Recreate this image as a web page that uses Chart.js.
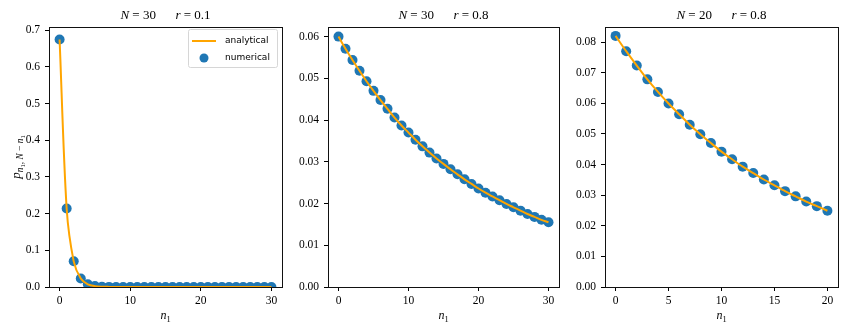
<!DOCTYPE html>
<html>
<head>
<meta charset="utf-8">
<script src="https://cdn.jsdelivr.net/npm/chart.js@4.4.0/dist/chart.umd.min.js"></script>
<style>
  body { margin: 0; background: #fff; width: 847px; height: 333px; position: relative; overflow: hidden; }
  .panel { position: absolute; top: 0; height: 333px; }
</style>
</head>
<body>
<div class="panel" style="left:0;width:290px"><canvas id="c1" width="290" height="333"></canvas></div>
<div class="panel" style="left:285px;width:285px"><canvas id="c2" width="285" height="333"></canvas></div>
<div class="panel" style="left:565px;width:282px"><canvas id="c3" width="282" height="333"></canvas></div>
<script>
'use strict';

// n1 values for each panel
let n1_30 = [0, 1, 2, 3, 4, 5, 6, 7, 8, 9, 10, 11, 12, 13, 14, 15, 16, 17, 18, 19, 20,
  21, 22, 23, 24, 25, 26, 27, 28, 29, 30];
let n1_20 = [0, 1, 2, 3, 4, 5, 6, 7, 8, 9, 10, 11, 12, 13, 14, 15, 16, 17, 18, 19, 20];

// N = 30, r = 0.1
let p_30_01 = [0.675, 0.214, 0.070, 0.023, 0.0074, 0.0024, 0.0008, 0.0003, 0.0001, 0.00003,
  0, 0, 0, 0, 0, 0, 0, 0, 0, 0, 0, 0, 0, 0, 0, 0, 0, 0, 0, 0, 0];
// N = 30, r = 0.8
let p_30_08 = [0.0600, 0.0571, 0.0544, 0.0518, 0.0493, 0.0470, 0.0448, 0.0427, 0.0406, 0.0387,
  0.0370, 0.0353, 0.0337, 0.0322, 0.0308, 0.0295, 0.0282, 0.0270, 0.0258, 0.0247,
  0.0236, 0.0226, 0.0217, 0.0208, 0.0199, 0.0191, 0.0183, 0.0175, 0.0168, 0.0161, 0.0155];
// N = 20, r = 0.8
let p_20_08 = [0.0820, 0.0770, 0.0723, 0.0678, 0.0637, 0.0599, 0.0564, 0.0530, 0.0499, 0.0470,
  0.0442, 0.0417, 0.0393, 0.0372, 0.0351, 0.0332, 0.0313, 0.0296, 0.0279, 0.0264, 0.0249];

let xTicks30 = [0, 10, 20, 30];
let xTicks20 = [0, 5, 10, 15, 20];
let yTicks1 = [0, 0.1, 0.2, 0.3, 0.4, 0.5, 0.6, 0.7];
let yTicks2 = [0, 0.01, 0.02, 0.03, 0.04, 0.05, 0.06];
let yTicks3 = [0, 0.01, 0.02, 0.03, 0.04, 0.05, 0.06, 0.07, 0.08];

let serif = '"Liberation Serif", "DejaVu Serif", serif';
let blue = '#1f77b4';
let orange = '#ffa500';

// draw a run of text pieces (italic / subscript) centred on x
function drawRuns(ctx, runs, x, y, size) {
  let total = 0;
  for (let r of runs) {
    ctx.font = (r.it ? 'italic ' : '') + (size * (r.s || 1)) + 'px ' + serif;
    r.w = ctx.measureText(r.t).width;
    total += r.w;
  }
  let cx = x - total / 2;
  ctx.textAlign = 'left';
  ctx.textBaseline = 'alphabetic';
  for (let r of runs) {
    ctx.font = (r.it ? 'italic ' : '') + (size * (r.s || 1)) + 'px ' + serif;
    ctx.fillText(r.t, cx, y + (r.dy || 0));
    cx += r.w;
  }
}

function xLabelRuns() {
  return [{ t: 'n', it: true }, { t: '1', s: 0.7, dy: 3 }];
}

let framePlugin = {
  id: 'frame',
  afterDraw(chart, args, opts) {
    let ctx = chart.ctx;
    let a = chart.chartArea;
    ctx.save();
    ctx.strokeStyle = '#111';
    ctx.lineWidth = 1;
    ctx.strokeRect(Math.round(a.left) + 0.5, Math.round(a.top) + 0.5,
      Math.round(a.right - a.left), Math.round(a.bottom - a.top));
    ctx.fillStyle = '#000';
    let mid = (a.left + a.right) / 2;
    drawRuns(ctx, opts.title, mid, 19, 13);
    drawRuns(ctx, xLabelRuns(), mid, 319, 12);
    if (opts.ylabel) {
      ctx.translate(20, (a.top + a.bottom) / 2);
      ctx.rotate(-Math.PI / 2);
      drawRuns(ctx, [
        { t: 'p', it: true },
        { t: 'n', it: true, s: 0.72, dy: 3 },
        { t: '1', s: 0.52, dy: 5 },
        { t: ', N\u2009\u2212\u2009n', it: true, s: 0.72, dy: 3 },
        { t: '1', s: 0.52, dy: 5 }
      ], 0, 0, 13);
      ctx.setTransform(1, 0, 0, 1, 0, 0);
    }
    if (opts.legend) {
      // legend box in upper right
      let bx = a.right - 94, by = a.top + 2, bw = 89, bh = 38;
      ctx.fillStyle = 'rgba(255,255,255,0.8)';
      ctx.strokeStyle = '#d6d6d6';
      ctx.lineWidth = 1;
      ctx.beginPath();
      ctx.roundRect(bx + 0.5, by + 0.5, bw, bh, 2);
      ctx.fill();
      ctx.stroke();
      ctx.strokeStyle = orange;
      ctx.lineWidth = 2;
      ctx.beginPath();
      ctx.moveTo(bx + 4, by + 12);
      ctx.lineTo(bx + 28, by + 12);
      ctx.stroke();
      ctx.fillStyle = blue;
      ctx.beginPath();
      ctx.arc(bx + 16, by + 29, 4.5, 0, Math.PI * 2);
      ctx.fill();
      ctx.fillStyle = '#000';
      ctx.font = '9px "DejaVu Sans", sans-serif';
      ctx.textBaseline = 'middle';
      ctx.fillText('analytical', bx + 37, by + 12);
      ctx.fillText('numerical', bx + 37, by + 29);
    }
    ctx.restore();
  }
};

function makePanel(id, xs, ys, xMin, xMax, yMax, xTicks, yTicks, yDec, yWidth, padRight, extra) {
  let pts = xs.map((x, i) => ({ x: x, y: ys[i] }));
  let tickFont = { family: serif, size: 11.5 };
  return new Chart(document.getElementById(id), {
    type: 'scatter',
    data: {
      datasets: [
        {
          label: 'analytical',
          data: pts,
          showLine: true,
          borderColor: orange,
          borderWidth: 2,
          pointRadius: 0,
          tension: 0.3,
          clip: 0
        },
        {
          label: 'numerical',
          data: pts,
          pointRadius: 5,
          pointHoverRadius: 5,
          backgroundColor: blue,
          borderWidth: 0,
          clip: 0
        }
      ]
    },
    options: {
      responsive: false,
      animation: false,
      events: [],
      layout: { padding: { left: 0, right: padRight, top: 27, bottom: 0 } },
      plugins: {
        legend: { display: false },
        tooltip: { enabled: false },
        frame: extra
      },
      scales: {
        x: {
          type: 'linear',
          min: xMin,
          max: xMax,
          afterBuildTicks: s => { s.ticks = xTicks.map(v => ({ value: v })); },
          afterFit: s => { s.height = 46; },
          ticks: {
            font: tickFont,
            color: '#000',
            padding: 3,
            maxRotation: 0,
            autoSkip: false,
            callback: v => String(v)
          },
          grid: { drawOnChartArea: false, drawTicks: true, tickLength: 4, color: '#000', tickWidth: 1 },
          border: { display: true, color: '#111', width: 1 }
        },
        y: {
          type: 'linear',
          min: 0,
          max: yMax,
          afterBuildTicks: s => { s.ticks = yTicks.map(v => ({ value: v })); },
          afterFit: s => { s.width = yWidth; },
          ticks: {
            font: tickFont,
            color: '#000',
            padding: 5,
            autoSkip: false,
            callback: v => Number(v).toFixed(yDec)
          },
          grid: { drawOnChartArea: false, drawTicks: true, tickLength: 4, color: '#000', tickWidth: 1 },
          border: { display: true, color: '#111', width: 1 }
        }
      }
    },
    plugins: [framePlugin]
  });
}

makePanel('c1', n1_30, p_30_01, -1.5, 31.5, 0.709, xTicks30, yTicks1, 1, 49, 8, {
  title: [{ t: 'N', it: true }, { t: ' = 30      ' }, { t: 'r', it: true }, { t: ' = 0.1' }],
  ylabel: true,
  legend: true
});
makePanel('c2', n1_30, p_30_08, -1.5, 31.5, 0.0623, xTicks30, yTicks2, 2, 43, 11, {
  title: [{ t: 'N', it: true }, { t: ' = 30      ' }, { t: 'r', it: true }, { t: ' = 0.8' }]
});
makePanel('c3', n1_20, p_20_08, -1, 21, 0.0849, xTicks20, yTicks3, 2, 40, 9, {
  title: [{ t: 'N', it: true }, { t: ' = 20      ' }, { t: 'r', it: true }, { t: ' = 0.8' }]
});
</script>
</body>
</html>
